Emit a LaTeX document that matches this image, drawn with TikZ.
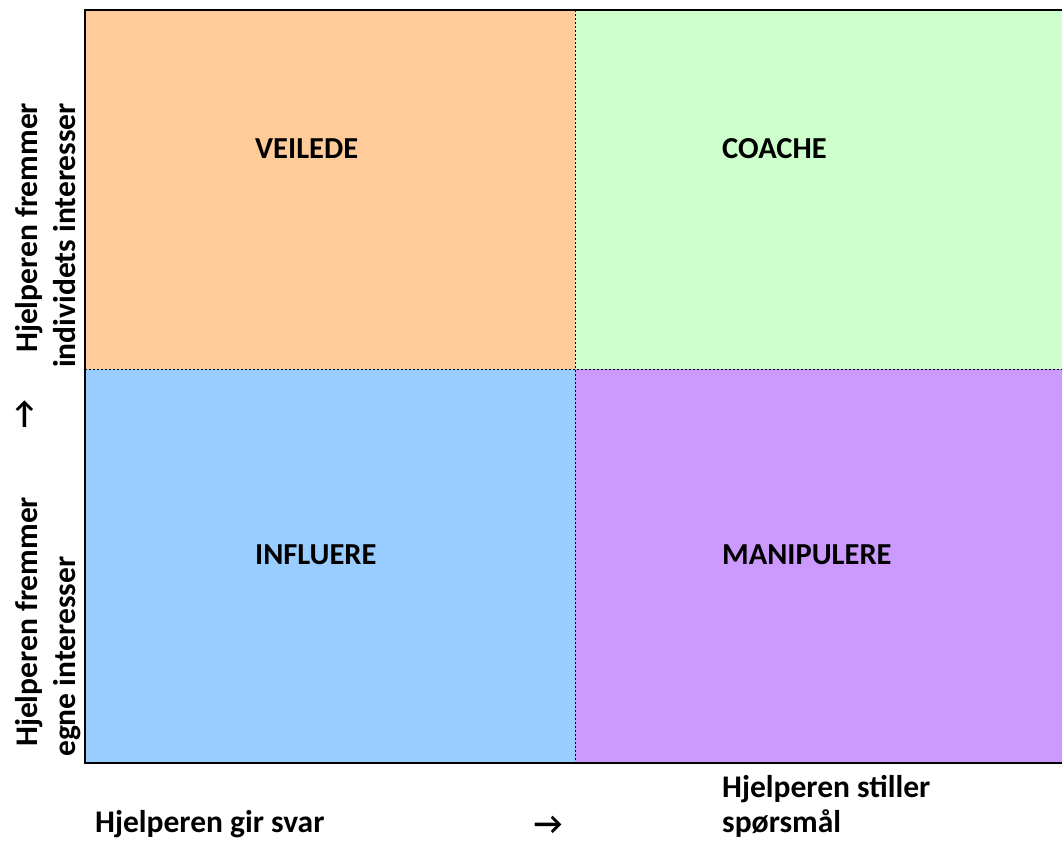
\documentclass[tikz,border=0pt]{standalone}
\usepackage{fontspec}
\usepackage{xcolor}
\setmainfont{Carlito}
\definecolor{veiledecol}{HTML}{FFCC99}
\definecolor{coachecol}{HTML}{CCFFCC}
\definecolor{influerecol}{HTML}{99CCFF}
\definecolor{manipcol}{HTML}{CC99FF}

\begin{document}
\begin{tikzpicture}[x=1pt,y=-1pt,
    quad/.style={inner sep=0pt,anchor=base west,font=\fontsize{30.5}{36}\selectfont\bfseries},
    axis/.style={inner sep=0pt,anchor=base west,font=\fontsize{31.5}{38}\selectfont\bfseries},
    arrowsym/.style={inner sep=0pt,font=\fontsize{31.5}{38}\selectfont\bfseries},
    midline/.style={line width=1pt,dash pattern=on 2pt off 2pt}]
    \useasboundingbox (0,0) rectangle (1062,841);
    % quadrants
    \fill[veiledecol] (85,10) rectangle (575,369);
    \fill[coachecol] (575,10) rectangle (1062,369);
    \fill[influerecol] (85,369) rectangle (575,763);
    \fill[manipcol] (575,369) rectangle (1062,763);
    \draw[midline] (575,10) -- (575,763);
    \draw[midline] (85,369) -- (1062,369);
    \draw[line width=2pt] (1062,10) -- (85,10) -- (85,763) -- (1062,763);
    % labels
    \node[quad] (veilede) at (255,158) {VEILEDE};
    \node[quad] (coache) at (722,158) {COACHE};
    \node[quad] (influere) at (255,564) {INFLUERE};
    \node[quad] (manipulere) at (722,564) {MANIPULERE};
    % axes
    \node[axis,rotate=90] (yhigh1) at (37,353) {Hjelperen fremmer};
    \node[axis,rotate=90] (yhigh2) at (75,368) {individets interesser};
    \node[axis,rotate=90] (ylow1) at (37,747) {Hjelperen fremmer};
    \node[axis,rotate=90] (ylow2) at (75,757) {egne interesser};
    \node[arrowsym,rotate=90] (yarrow) at (25,414) {→};
    \node[axis] (xlow) at (95,832) {Hjelperen gir svar};
    \node[arrowsym,anchor=base] (xarrow) at (548,834) {→};
    \node[axis] (xhigh1) at (722,797) {Hjelperen stiller};
    \node[axis] (xhigh2) at (722,832) {spørsmål};
\end{tikzpicture}
\end{document}
